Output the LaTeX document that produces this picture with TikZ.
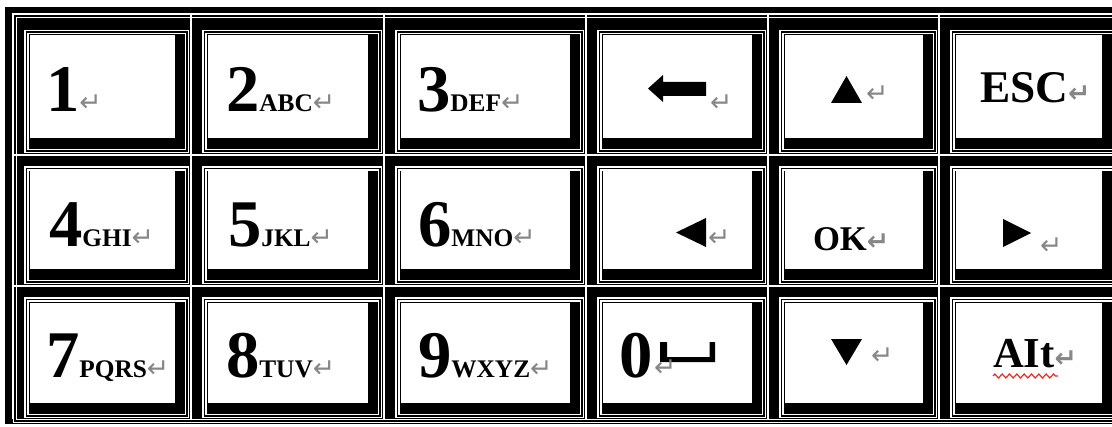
\documentclass[tikz,border=0pt]{standalone}
\usepackage{xcolor}
\usepackage{fontspec}
\setmainfont{Liberation Serif}
\newfontfamily\symfont{DejaVu Sans}
\usetikzlibrary{decorations.pathmorphing}
\definecolor{markgray}{RGB}{135,135,135}
\definecolor{spellred}{RGB}{235,40,40}

\newcommand{\keydigit}[1]{{\fontsize{50}{50}\selectfont\bfseries #1}}
\newcommand{\keyletters}[1]{{\fontsize{19}{19}\selectfont\bfseries #1}}
\newcommand{\retmark}{{\symfont\fontsize{20}{20}\selectfont\textcolor{markgray}{↵}}}

\begin{document}
\begin{tikzpicture}[x=0.75pt, y=-0.75pt,
    keytext/.style={anchor=base west, inner sep=0pt, outer sep=0pt},
    thinwhite/.style={draw=white, line width=0.8pt},
    gridwhite/.style={draw=white, line width=1.1pt}]
    \path[use as bounding box, fill=white] (0,0) rectangle (1112,427);
    \clip (0,0) rectangle (1112,427);
    % table frame
    \fill[black] (5,7) rectangle (1125,424);
    \draw[thinwhite] (13.5,14.5) rectangle (1122,422.5);
    \draw[thinwhite] (16.5,17.5) rectangle (1119,419.5);
    % key cells
    \foreach \xa/\xb in {12/190, 190/383, 383/585, 585/767, 767/938, 938/1117} {
      \foreach \ya/\yb/\ftop/\itop in {13/154/17.5/20.5, 154/285/13/16, 285/419/13/16} {
        \draw[gridwhite] (\xa+1,\yb) -- (\xa+1,\ya+1) -- (\xb,\ya+1);
        \draw[thinwhite] (\xa+13,\ya+\ftop) rectangle (\xb-1.5,\yb-1.5);
        \draw[thinwhite] (\xa+16,\ya+\itop) rectangle (\xb-4.5,\yb-4.5);
        \fill[white] (\xa+18,\ya+\itop+1.5) rectangle (\xb-15,\yb-16);
      }
    }
    % row 1
    \node[keytext] (k1) at (46,112) {\keydigit{1}\retmark};
    \node[keytext] (k2) at (226,112) {\keydigit{2}\keyletters{ABC}\retmark};
    \node[keytext] (k3) at (417,112) {\keydigit{3}\keyletters{DEF}\retmark};
    \fill (648,88.5) -- (663,75) -- (663,82) -- (706,82) -- (706,96) -- (663,96) -- (663,102) -- cycle;
    \node[keytext] (kbackret) at (710,112) {\retmark};
    \fill (831,103) -- (846.5,76) -- (862,103) -- cycle;
    \node[keytext] (kupret) at (866,103) {\retmark};
    \node[keytext] (kesc) at (980,103) {\fontsize{34}{34}\selectfont\bfseries ESC\retmark};
    % row 2
    \node[keytext] (k4) at (49,247) {\keydigit{4}\keyletters{GHI}\retmark};
    \node[keytext] (k5) at (228,247) {\keydigit{5}\keyletters{JKL}\retmark};
    \node[keytext] (k6) at (418,247) {\keydigit{6}\keyletters{MNO}\retmark};
    \fill (676,232.5) -- (706,218) -- (706,247) -- cycle;
    \node[keytext] (kleftret) at (708,247) {\retmark};
    \node[keytext] (kok) at (813,251) {\fontsize{26}{26}\selectfont\bfseries OK\retmark};
    \fill (1003,219) -- (1031,233) -- (1003,247) -- cycle;
    \node[keytext] (krightret) at (1040,255) {\retmark};
    % row 3
    \node[keytext] (k7) at (46,377) {\keydigit{7}\keyletters{PQRS}\retmark};
    \node[keytext] (k8) at (226,377) {\keydigit{8}\keyletters{TUV}\retmark};
    \node[keytext] (k9) at (418,377) {\keydigit{9}\keyletters{WXYZ}\retmark};
    \node[keytext] (k0) at (619,377) {\keydigit{0}};
    \fill (660,342) -- (667,342) -- (667,357) -- (709.5,357) -- (709.5,342) -- (715,342) -- (715,362) -- (660,362) -- cycle;
    \node[keytext] (kzeroret) at (654,376) {\retmark};
    \fill (831,339) -- (862,339) -- (846.5,365) -- cycle;
    \node[keytext] (kdownret) at (871,364) {\retmark};
    \node[keytext] (kalt) at (993,367) {\fontsize{32}{32}\selectfont\bfseries AIt\retmark};
    \draw[spellred, line width=0.9pt, decorate, decoration={zigzag, segment length=5.5pt, amplitude=1.5pt}] (993,376) -- (1058,376);
\end{tikzpicture}
\end{document}
